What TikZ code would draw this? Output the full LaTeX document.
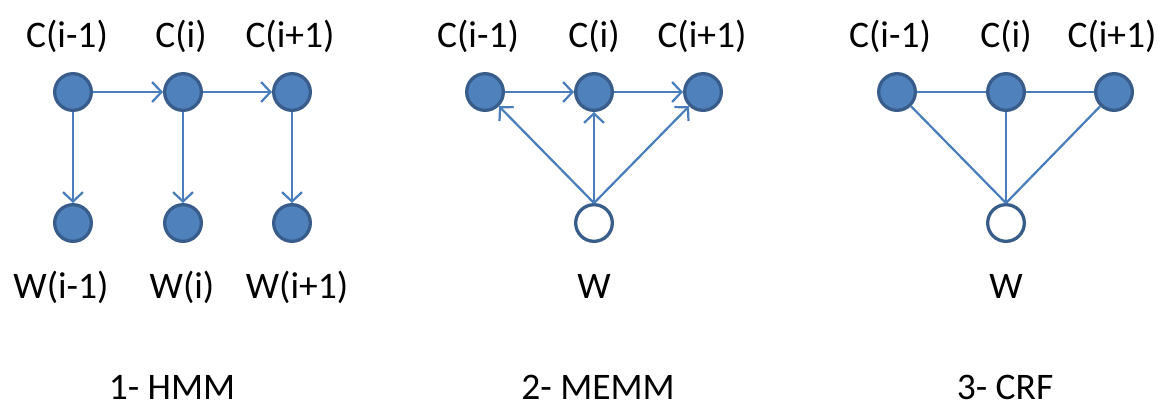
\documentclass[tikz,border=0pt]{standalone}
\usepackage{fontspec}
\setmainfont{Carlito}
\usetikzlibrary{arrows.meta}
\definecolor{nodefill}{HTML}{4F81BD}
\definecolor{nodeline}{HTML}{385D8A}
\definecolor{edgeblue}{HTML}{4A7EBB}
\begin{document}
\begin{tikzpicture}
	[
	x=0.03cm, y=-0.03cm, font=\fontsize{32}{38}\selectfont,
	>={Straight Barb[length=8pt,width=17pt,line width=1.9pt]},
	%Voreinstellungen
	state/.style={circle, draw=nodeline, line width=2.8pt, minimum size=1.1cm, inner sep=0pt},
	hidden/.style={state, fill=nodefill},
	observed/.style={state, fill=white},
	edge/.style={draw=edgeblue, line width=1.9pt},
	lbl/.style={anchor=base, inner sep=0pt}
	]
	
	\useasboundingbox (0,0) rectangle (1161,408);
	
	%1- HMM
	\node[hidden] (hc1) at (73,92) {};
	\node[hidden] (hc2) at (183,92) {};
	\node[hidden] (hc3) at (292,92) {};
	\node[hidden] (hw1) at (73,223) {};
	\node[hidden] (hw2) at (183,223) {};
	\node[hidden] (hw3) at (292,223) {};
	\draw[edge, ->] (hc1) -- (hc2);
	\draw[edge, ->] (hc2) -- (hc3);
	\foreach \i in {1,2,3}
		\draw[edge, ->] (hc\i) -- (hw\i);
	\node[lbl] (hlc1) at (67,47) {C(i-1)};
	\node[lbl] (hlc2) at (181,47) {C(i)};
	\node[lbl] (hlc3) at (290,47) {C(i+1)};
	\node[lbl] (hlw1) at (61,298) {W(i-1)};
	\node[lbl] (hlw2) at (182,298) {W(i)};
	\node[lbl] (hlw3) at (297,298) {W(i+1)};
	\node[lbl] (hmm) at (172,399) {1- HMM};
	
	%2- MEMM
	\node[hidden] (mc1) at (485,92) {};
	\node[hidden] (mc2) at (594,92) {};
	\node[hidden] (mc3) at (703,92) {};
	\node[observed] (mw) at (594,223) {};
	\draw[edge, ->] (mc1) -- (mc2);
	\draw[edge, ->] (mc2) -- (mc3);
	\foreach \i in {1,2,3}
		\draw[edge, ->] (mw.north) -- (mc\i);
	\node[lbl] (mlc1) at (478,47) {C(i-1)};
	\node[lbl] (mlc2) at (594,47) {C(i)};
	\node[lbl] (mlc3) at (702,47) {C(i+1)};
	\node[lbl] (mlw) at (594,298) {W};
	\node[lbl] (memm) at (598,399) {2- MEMM};
	
	%3- CRF
	\node[hidden] (cc1) at (897,92) {};
	\node[hidden] (cc2) at (1006,92) {};
	\node[hidden] (cc3) at (1114,92) {};
	\node[observed] (cw) at (1006,223) {};
	\draw[edge] (cc1) -- (cc2) -- (cc3);
	\foreach \i in {1,2,3}
		\draw[edge] (cw.north) -- (cc\i);
	\node[lbl] (clc1) at (890,47) {C(i-1)};
	\node[lbl] (clc2) at (1006,47) {C(i)};
	\node[lbl] (clc3) at (1112,47) {C(i+1)};
	\node[lbl] (clw) at (1006,298) {W};
	\node[lbl] (crf) at (1005,399) {3- CRF};
\end{tikzpicture}
\end{document}
